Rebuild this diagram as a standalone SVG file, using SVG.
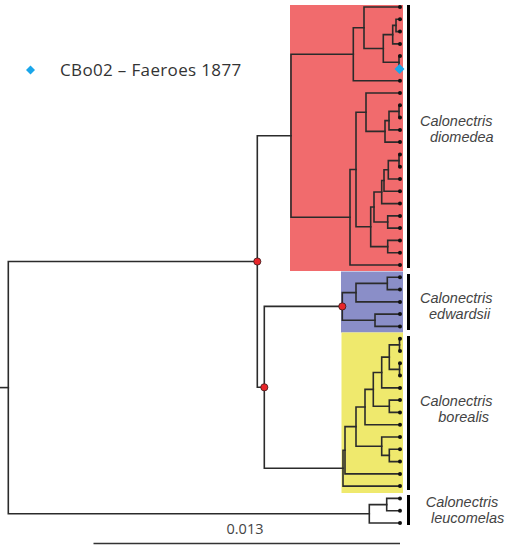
<svg xmlns="http://www.w3.org/2000/svg" width="508" height="545" viewBox="0 0 508 545">
<style>
.br{fill:none;stroke:#2b2b2b;stroke-width:1.6;stroke-linecap:square}
.tip{fill:#111}
.bar{fill:#000}
.nd{fill:#e8262a;stroke:#3a1a1a;stroke-width:0.8}
.lab{font-family:"Liberation Sans",Arial,sans-serif;font-style:italic;font-size:14.5px;fill:#444}
.leg{font-family:"Open Sans","Liberation Sans",sans-serif;font-size:17px;letter-spacing:0.35px;fill:#333}
.dia{fill:#1aa6ea}
</style>
<rect width="508" height="545" fill="#fff"/>
<g id="clade-boxes">
<rect x="290" y="5" width="113" height="266" fill="#f16b6d"/>
<rect x="341" y="271.5" width="62" height="61" fill="#8a8ec8"/>
<rect x="341.5" y="332.5" width="61.5" height="160.5" fill="#efe96d"/>
</g>
<g id="connectors">
<path class="br" d="M400 19.3H396V31.6H400"/>
<path class="br" d="M396 25.4H392.7V43.9H400"/>
<path class="br" d="M400 56.1H399V68.4H400"/>
<path class="br" d="M392.7 34.6H383.3V62.3H399"/>
<path class="br" d="M400 7H364V48.5H383.3"/>
<path class="br" d="M364 27.7H353.3V80.7H400"/>
<path class="br" d="M400 105.3H399V117.6H400"/>
<path class="br" d="M399 111.4H389V129.9H400"/>
<path class="br" d="M389 120.6H385V142.1H400"/>
<path class="br" d="M400 93H366V131.4H385"/>
<path class="br" d="M400 154.4H399V166.7H400"/>
<path class="br" d="M399 160.6H388.3V179H400"/>
<path class="br" d="M388.3 169.8H384V191.3H400"/>
<path class="br" d="M384 180.5H381.7V203.6H400"/>
<path class="br" d="M400 215.9H387.7V228.1H400"/>
<path class="br" d="M381.7 192H374V222H387.7"/>
<path class="br" d="M400 240.4H387.7V252.7H400"/>
<path class="br" d="M374 207H370.7V246.6H387.7"/>
<path class="br" d="M366 112.2H356V226.8H370.7"/>
<path class="br" d="M356 169.5H350V265H400"/>
<path class="br" d="M353.3 54.2H291V217.2H350"/>
<path class="br" d="M400 277.3H387.3V289.6H400"/>
<path class="br" d="M387.3 283.4H356V301.9H400"/>
<path class="br" d="M400 314.1H375V326.4H400"/>
<path class="br" d="M356 292.6H342.3V320.3H375"/>
<path class="br" d="M400 338.7H399.5V351H400"/>
<path class="br" d="M400 363.3H399.5V375.6H400"/>
<path class="br" d="M399.5 344.9H389.3V369.4H399.5"/>
<path class="br" d="M389.3 357.1H381.7V387.9H400"/>
<path class="br" d="M400 400.1H389.3V412.4H400"/>
<path class="br" d="M381.7 372.5H373.3V406.3H389.3"/>
<path class="br" d="M373.3 389.4H365V424.7H400"/>
<path class="br" d="M400 449.3H389.3V461.6H400"/>
<path class="br" d="M400 437H381.7V455.4H389.3"/>
<path class="br" d="M365 407H356V446.2H381.7"/>
<path class="br" d="M356 426.6H345V473.9H400"/>
<path class="br" d="M345 450.2H343V486.1H400"/>
<path class="br" d="M342.3 306.4H264.3V468.2H343"/>
<path class="br" d="M291 135.7H257.3V387.3H264.3"/>
<path class="br" d="M400 498.4H386.7V510.7H400"/>
<path class="br" d="M386.7 504.6H369.3V523H400"/>
<path class="br" d="M257.3 261.5H8.3V513.8H369.3"/>
<path class="br" d="M0 387.6H8.3"/>
</g>
<g id="tips">
<circle class="tip" cx="400" cy="7" r="2"/>
<circle class="tip" cx="400" cy="19.3" r="2"/>
<circle class="tip" cx="400" cy="31.6" r="2"/>
<circle class="tip" cx="400" cy="43.9" r="2"/>
<circle class="tip" cx="400" cy="56.1" r="2"/>
<circle class="tip" cx="400" cy="80.7" r="2"/>
<circle class="tip" cx="400" cy="93" r="2"/>
<circle class="tip" cx="400" cy="105.3" r="2"/>
<circle class="tip" cx="400" cy="117.6" r="2"/>
<circle class="tip" cx="400" cy="129.9" r="2"/>
<circle class="tip" cx="400" cy="142.1" r="2"/>
<circle class="tip" cx="400" cy="154.4" r="2"/>
<circle class="tip" cx="400" cy="166.7" r="2"/>
<circle class="tip" cx="400" cy="179" r="2"/>
<circle class="tip" cx="400" cy="191.3" r="2"/>
<circle class="tip" cx="400" cy="203.6" r="2"/>
<circle class="tip" cx="400" cy="215.9" r="2"/>
<circle class="tip" cx="400" cy="228.1" r="2"/>
<circle class="tip" cx="400" cy="240.4" r="2"/>
<circle class="tip" cx="400" cy="252.7" r="2"/>
<circle class="tip" cx="400" cy="265" r="2"/>
<circle class="tip" cx="400" cy="277.3" r="2"/>
<circle class="tip" cx="400" cy="289.6" r="2"/>
<circle class="tip" cx="400" cy="301.9" r="2"/>
<circle class="tip" cx="400" cy="314.1" r="2"/>
<circle class="tip" cx="400" cy="326.4" r="2"/>
<circle class="tip" cx="400" cy="338.7" r="2"/>
<circle class="tip" cx="400" cy="351" r="2"/>
<circle class="tip" cx="400" cy="363.3" r="2"/>
<circle class="tip" cx="400" cy="375.6" r="2"/>
<circle class="tip" cx="400" cy="387.9" r="2"/>
<circle class="tip" cx="400" cy="400.1" r="2"/>
<circle class="tip" cx="400" cy="412.4" r="2"/>
<circle class="tip" cx="400" cy="424.7" r="2"/>
<circle class="tip" cx="400" cy="437" r="2"/>
<circle class="tip" cx="400" cy="449.3" r="2"/>
<circle class="tip" cx="400" cy="461.6" r="2"/>
<circle class="tip" cx="400" cy="473.9" r="2"/>
<circle class="tip" cx="400" cy="486.1" r="2"/>
<circle class="tip" cx="400" cy="498.4" r="2"/>
<circle class="tip" cx="400" cy="510.7" r="2"/>
<circle class="tip" cx="400" cy="523" r="2"/>
<path id="tip-CBo02" class="dia" d="M399.5 64L404.5 69L399.5 74L394.5 69Z"/>
</g>
<g id="support-nodes">
<circle class="nd" cx="257.3" cy="261.5" r="3.6"/>
<circle class="nd" cx="264.3" cy="387.3" r="3.6"/>
<circle class="nd" cx="342.3" cy="306.4" r="3.6"/>
</g>
<g id="clade-diomedea">
<rect class="bar" x="407" y="5" width="3" height="263"/>
<text class="lab"><tspan x="420" y="126">Calonectris</tspan><tspan x="430" y="142.4">diomedea</tspan></text>
</g>
<g id="clade-edwardsii">
<rect class="bar" x="407" y="274" width="3" height="56"/>
<text class="lab"><tspan x="420" y="303">Calonectris</tspan><tspan x="429" y="319.4">edwardsii</tspan></text>
</g>
<g id="clade-borealis">
<rect class="bar" x="407" y="336" width="3" height="154"/>
<text class="lab"><tspan x="420" y="406">Calonectris</tspan><tspan x="438.3" y="422.4">borealis</tspan></text>
</g>
<g id="clade-leucomelas">
<rect class="bar" x="407" y="495" width="3" height="30"/>
<text class="lab"><tspan x="425.7" y="507">Calonectris</tspan><tspan x="431" y="523.4">leucomelas</tspan></text>
</g>
<g id="legend">
<path class="dia" d="M30.5 65.5L35 70L30.5 74.5L26 70Z"/>
<text class="leg" x="60" y="76">CBo02 – Faeroes 1877</text>
</g>
<g id="scale-bar">
<line x1="93.5" y1="543.5" x2="400" y2="543.5" stroke="#333" stroke-width="1.5"/>
<text x="245" y="534" text-anchor="middle" font-family="'Open Sans','Liberation Sans',sans-serif" font-size="14.5" fill="#444">0.013</text>
</g>
</svg>
